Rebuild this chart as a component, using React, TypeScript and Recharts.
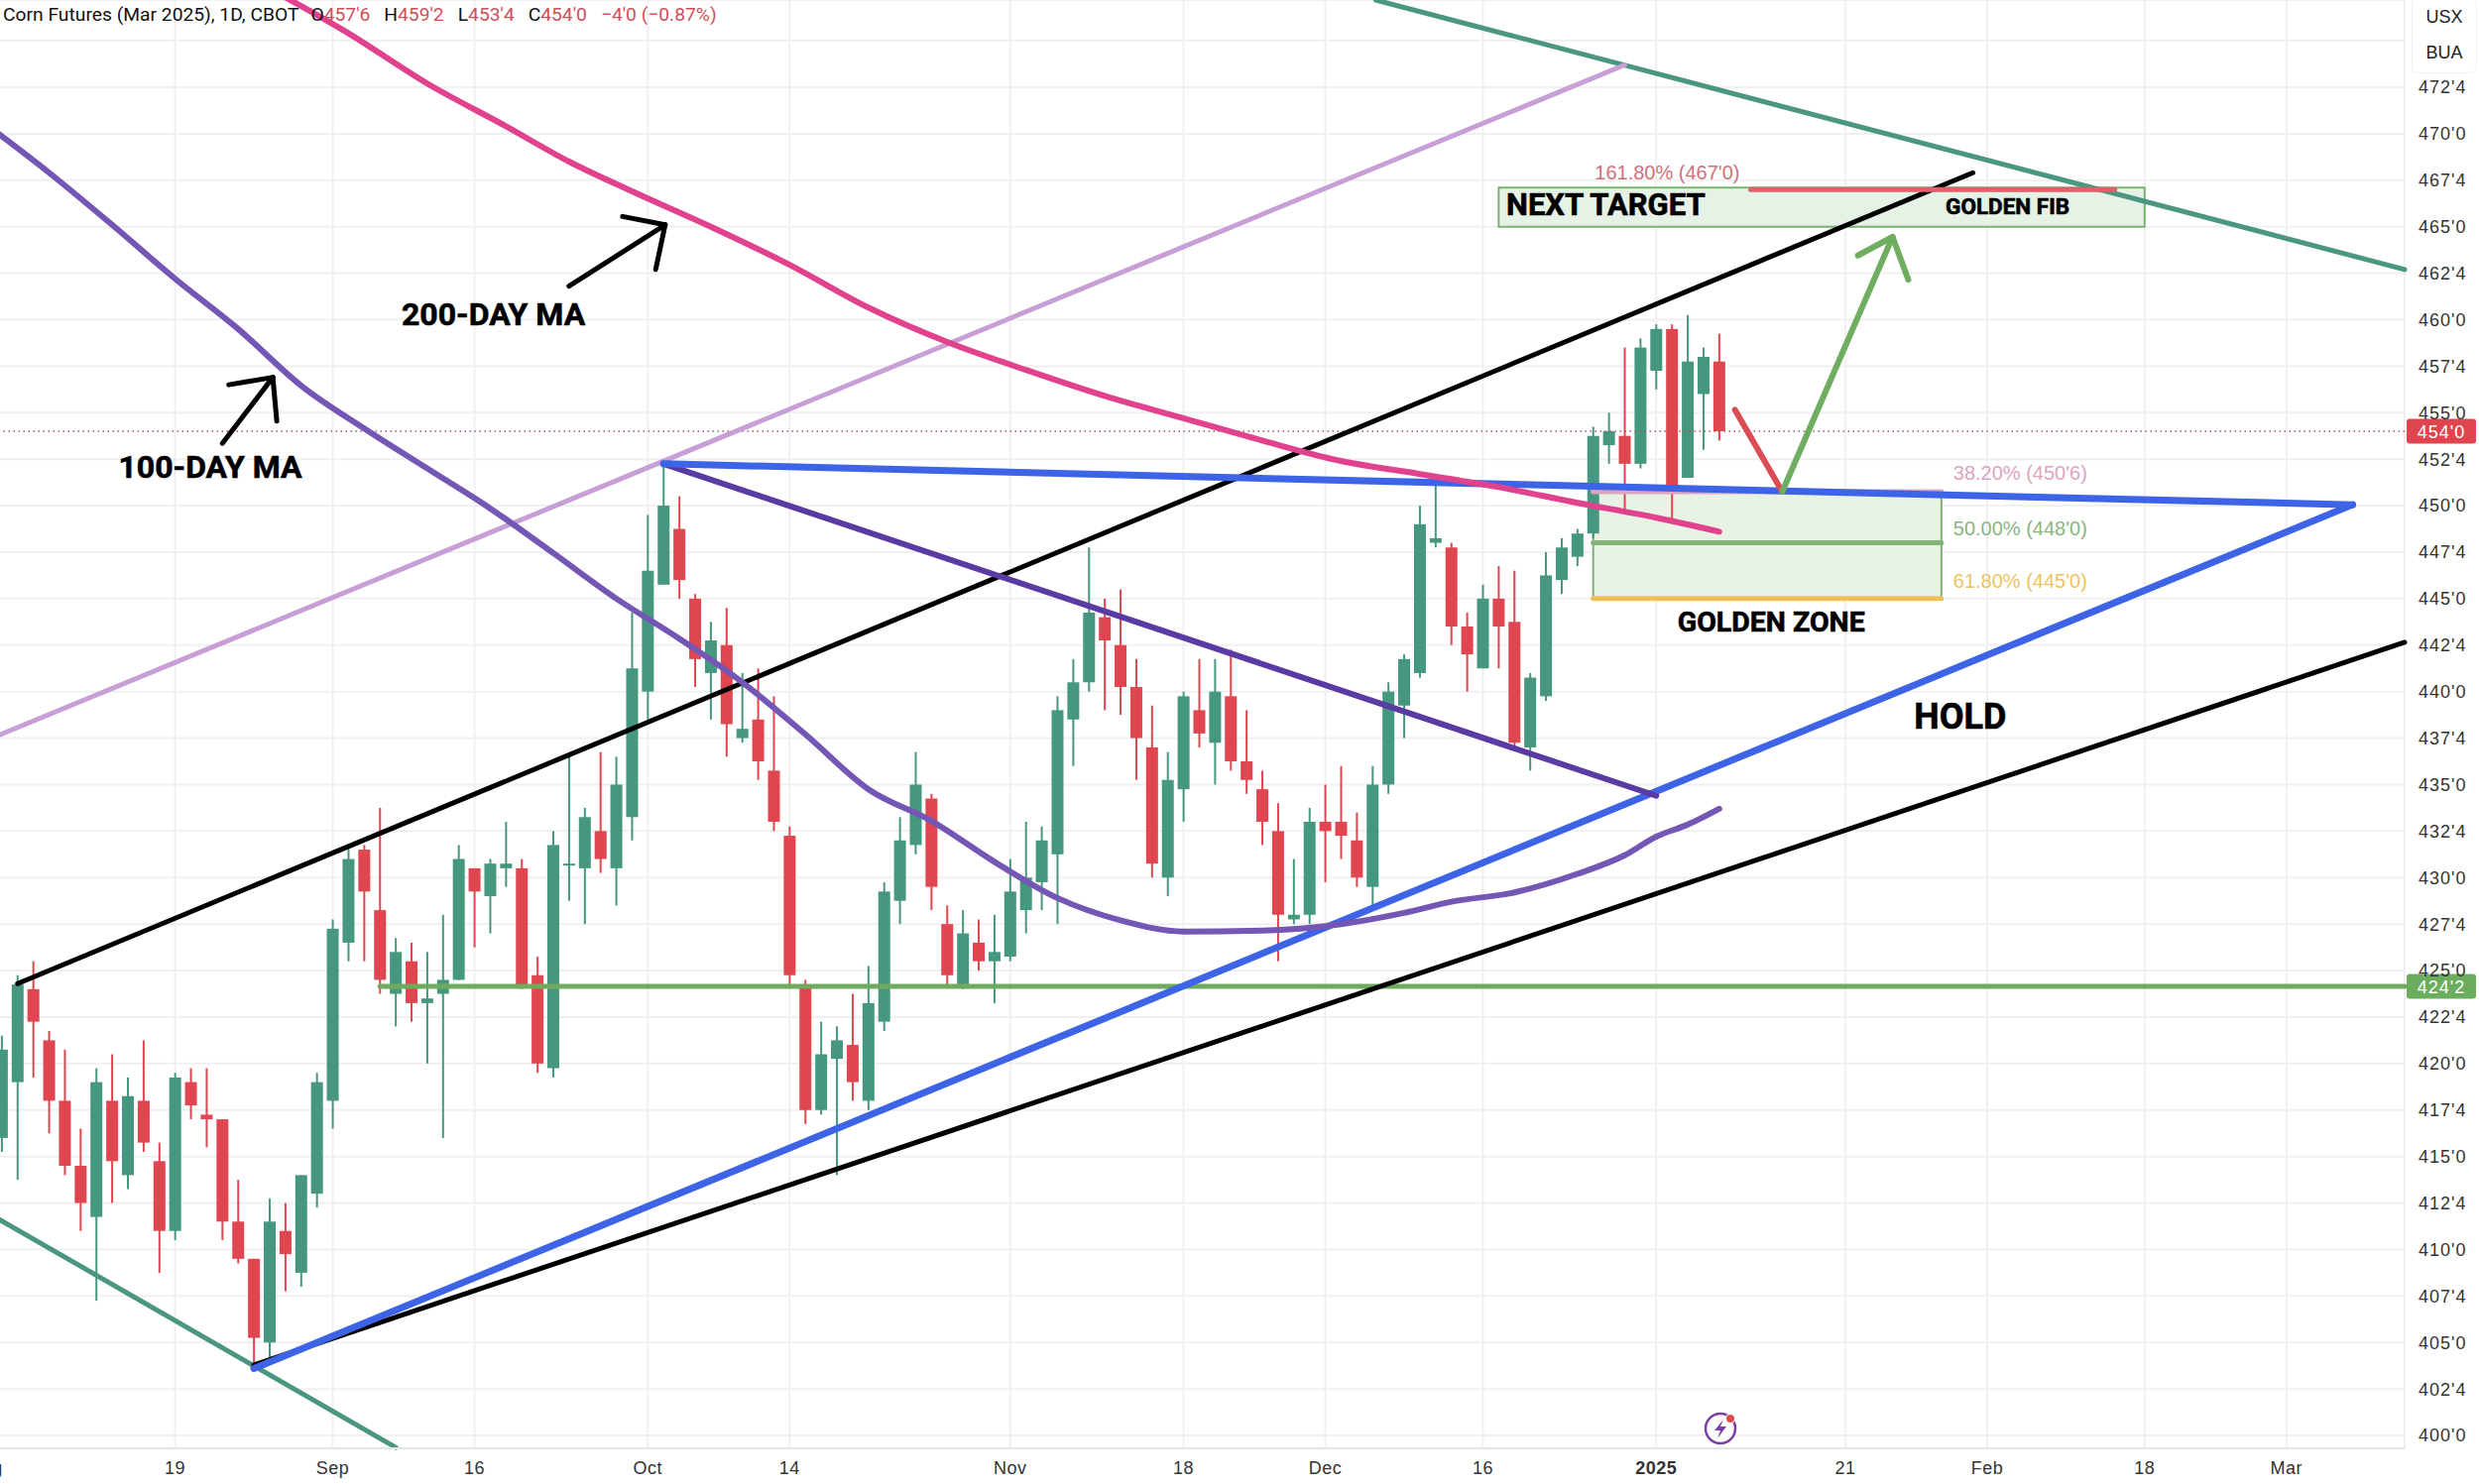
import { Bar, CartesianGrid, ComposedChart, Line, ReferenceArea, ReferenceDot, ReferenceLine, XAxis, YAxis } from 'recharts';

const UP = '#45987f';
const DOWN = '#e0464f';
const SANS = '"Liberation Sans", Arial, sans-serif';
const BOLD = 'Roboto, sans-serif';

// daily bars, first one is the partly cut candle on the left edge
const opens = [
  416, 419, 424, 421.25, 418, 414.5, 411.75, 418, 414, 418,
  414.75, 411, 419, 417.25, 417, 411.5, 409.5, 405, 411, 408.75,
  413, 418, 426.5, 431.5, 428.25, 423.75, 425.5, 423.25, 423.75, 424.5,
  430.5, 429, 430.5, 430.5, 424.75, 419.75, 430.75, 430.5, 432.5, 430.5,
  433.25, 440, 445.75, 448.75, 445, 441, 442.5, 437.5, 438.5, 435.75,
  432.25, 424.25, 417.5, 420.25, 421, 418, 422.25, 428.75, 431.75, 434.25,
  427.5, 424.25, 426.5, 425.5, 425.75, 428.25, 429.75, 431.25, 438.5, 440.5,
  444, 442.5, 440.25, 437, 430, 434.75, 439, 437.25, 439.75, 436.25,
  434.75, 432.5, 427.75, 428, 433, 433, 432, 429.5, 435, 439.25,
  441, 448, 447.75, 443.5, 441.25, 445, 443.75, 437, 439.75, 446,
  447.25, 448.5, 453.25, 453.75, 452.25, 457.25, 459.5, 451.5, 456, 457.75,
];
const closes = [
  420.75, 424.25, 422.25, 418, 414.5, 412.5, 419, 414.75, 418.25, 415.75,
  411, 419.25, 417.75, 417, 411.5, 409.5, 405.25, 411.5, 409.75, 414,
  419, 427.25, 431, 429.25, 424.5, 426, 423.25, 423.5, 424.5, 431,
  429.25, 430.75, 430.75, 424.25, 420, 431.75, 430.75, 433.25, 431, 435,
  441.25, 446.5, 450, 446, 441.75, 442.75, 438.25, 438, 436.25, 433,
  424.75, 417.5, 420.5, 421.25, 419, 423.25, 429.25, 432, 435, 429.5,
  424.75, 427, 425.5, 426, 429.25, 430, 432, 439, 440.5, 444.25,
  442.75, 440.25, 437.5, 430.75, 435.25, 439.75, 437.75, 440, 436.25, 435.25,
  433, 428, 428, 433, 432.5, 432.25, 430, 435, 440, 441.75,
  449, 448.25, 443.5, 442, 445, 443.5, 437.25, 440.75, 446.25, 447.75,
  448.5, 453.75, 454, 452.25, 458.5, 459.5, 450.75, 457.75, 458, 454,
];
const highs = [
  421.5, 424.75, 425.5, 421.75, 420.75, 416.5, 419.75, 420.5, 419.25, 421.25,
  415.75, 419.5, 419.75, 419.75, 417, 413.75, 409.5, 412.75, 412.5, 414,
  419.5, 427.75, 431.75, 431.75, 433.75, 426.75, 426.5, 426, 428, 431.75,
  430.5, 431, 433, 431, 425.75, 432.5, 436.5, 433.75, 436.75, 436.5,
  444.25, 449.5, 452.25, 450.5, 445.25, 443.75, 444.5, 441, 441.25, 439.75,
  432.75, 424.5, 422.25, 422, 423.75, 425.25, 429.75, 433.25, 436.75, 434.5,
  428.5, 428.25, 427.75, 428, 431, 433, 432.75, 439.75, 441.75, 447.75,
  445, 445.5, 441.75, 439.25, 436.75, 440, 441.75, 441.75, 442.25, 439,
  435.75, 434, 431, 433.75, 435, 436, 433.5, 436, 440.5, 442,
  450, 451.25, 448, 444.25, 445.75, 446.75, 446.5, 441, 447.5, 448.25,
  448.75, 454.25, 455, 458.5, 459, 459.75, 459.75, 460.25, 458.5, 459.25,
];
const lows = [
  415.25, 413.75, 419.25, 416.25, 414, 411, 407.25, 412.5, 413.25, 415.25,
  408.75, 410.5, 417, 415.5, 410.5, 409.25, 403.75, 404, 407.75, 408,
  412.25, 416.5, 425.5, 425.5, 423.75, 422, 422.25, 420, 416, 424.5,
  426.25, 427, 429.5, 424, 419.5, 419.25, 428.75, 427.5, 430.25, 428.5,
  432, 438.5, 445.75, 445, 440.25, 438.5, 436.5, 437.25, 435.25, 432.5,
  424.25, 416.75, 417.25, 414, 418, 417.5, 421.75, 427.5, 431.25, 428.25,
  424.25, 424, 425, 423.25, 425.5, 427, 428.25, 427.5, 436, 440,
  439, 438.75, 435.25, 430, 429, 433, 437, 435, 435.75, 434.5,
  431.75, 425.5, 427.5, 427.5, 429.75, 431, 429.5, 428.5, 434.5, 437.5,
  440.75, 447.75, 442.5, 440, 441.25, 441.25, 437, 435.75, 439.5, 445.25,
  446.75, 448.25, 452.25, 449.75, 452, 456.25, 449.25, 451.5, 453, 453.5,
];

// moving averages, [row, price]
const ma200: [number, number][] = [
  [17, 477.8], [22, 475.4], [27, 472.7], [32, 470.4], [36, 468.5], [40, 466.9], [45, 465], [50, 462.95],
  [55, 460.65], [60, 458.8], [65, 457.3], [70, 455.9], [75, 454.7], [80, 453.5], [85, 452.4], [90, 451.7],
  [95, 451], [100, 450.15], [105, 449.35], [109, 448.6],
];
const ma100: [number, number][] = [
  [-1, 470.5], [3, 467.9], [7, 465.1], [11, 462.2], [15, 459.5], [19, 456.45], [23, 454.15], [27, 452],
  [31, 449.85], [35, 447.45], [39, 445], [43, 442.85], [47, 440.5], [51, 437.7], [55, 434.75], [59, 433.05],
  [63, 430.85], [67, 428.9], [71, 427.7], [75, 427.1], [80, 427.15], [85, 427.5], [89, 428.1], [92, 428.7],
  [96, 429.2], [100, 430.2], [103, 431.2], [105, 432.2], [107, 432.85], [109, 433.7],
];

const tickRows = [-1, 11, 21, 30, 41, 50, 64, 75, 84, 94, 105, 117, 126, 136, 145];
const tickLabels = ['Aug', '19', 'Sep', '16', 'Oct', '14', 'Nov', '18', 'Dec', '16', '2025', '21', 'Feb', '18', 'Mar'];
const priceTicks = [
  400, 402.5, 405, 407.5, 410, 412.5, 415, 417.5, 420, 422.5, 425, 427.5, 430, 432.5, 435, 437.5,
  440, 442.5, 445, 447.5, 450, 452.5, 455, 457.5, 460, 462.5, 465, 467.5, 470, 472.5, 475,
];

// drawn lines: [row, price, row, price, colour, width]
type Seg = [number, number, number, number, string, number];
const trendLines: Seg[] = [
  [87.2, 477.19, 152.5, 462.7, '#4b9680', 5],
  [-1.5, 412.27, 25, 399.36, '#4b9680', 5],
  [-1.5, 437.2, 103, 473.7, '#c79ed5', 5],
  [24, 424.15, 152.5, 424.15, '#6faa5e', 5],
  [1, 424.3, 125.1, 467.9, '#000000', 5],
  [16, 403.8, 152.5, 442.65, '#000000', 5],
  [16, 403.6, 149.2, 450.05, '#3d63e6', 7],
  [42, 452.25, 105, 434.4, '#5a3ba4', 6],
  [101, 450.75, 123.1, 450.75, '#dca5bf', 5],
  [42, 452.25, 149.2, 450.05, '#3d63e6', 7],
  [101, 448, 123.1, 448, '#7fb577', 5],
  [101, 445, 123.1, 445, '#eec05a', 5],
  [111, 467, 134.1, 467, '#e0606a', 5],
];
const arrowLines: Seg[] = [
  [110, 455.15, 113, 450.75, '#dc4c55', 6],
  [113, 450.75, 120, 464.45, '#6fae60', 6],
  [117.8, 463.45, 120, 464.45, '#6fae60', 6],
  [120, 464.45, 121, 462.15, '#6fae60', 6],
  [36, 461.8, 42.1, 465.1, '#000000', 5],
  [39.4, 465.55, 42.1, 465.1, '#000000', 5],
  [42.1, 465.1, 41.5, 462.7, '#000000', 5],
  [14, 453.35, 17.2, 456.9, '#000000', 5],
  [14.4, 456.5, 17.2, 456.9, '#000000', 5],
  [17.2, 456.9, 17.45, 454.55, '#000000', 5],
];

// text on the chart: [row, price, text, size, colour, weight]
type Note = [number, number, string, number, string, number];
const notes: Note[] = [
  [31.2, 460.3, '200-DAY MA', 32, '#000', 700],
  [13.23, 452.1, '100-DAY MA', 32, '#000', 700],
  [101.8, 466.2, 'NEXT TARGET', 31, '#000', 700],
  [127.3, 466.1, 'GOLDEN FIB', 22.5, '#000', 700],
  [112.3, 443.8, 'GOLDEN ZONE', 28.5, '#000', 700],
  [124.3, 438.7, 'HOLD', 36, '#000', 700],
  [105.7, 467.95, "161.80% (467'0)", 20, '#d0707a', 400],
  [128.1, 451.75, "38.20% (450'6)", 20, '#dca5bf', 400],
  [128.1, 448.8, "50.00% (448'0)", 20, '#8ab582', 400],
  [128.1, 445.95, "61.80% (445'0)", 20, '#ecc45f', 400],
];

const headerParts: [string, string, number][] = [
  ['Corn Futures (Mar 2025), 1D, CBOT', '#111', 12],
  ['O', '#111', 0], ["457'6", '#cf4f59', 14],
  ['H', '#111', 0], ["459'2", '#cf4f59', 14],
  ['L', '#111', 0], ["453'4", '#cf4f59', 14],
  ['C', '#111', 0], ["454'0", '#cf4f59', 14],
  ['−4\'0 (−0.87%)', '#cf4f59', 0],
];

const rows = Array.from({ length: 154 }, (_, n) => {
  const row = n - 1;
  const has = row >= 0 && row < opens.length;
  return {
    row,
    open: has ? opens[row] : undefined,
    close: has ? closes[row] : undefined,
    high: has ? highs[row] : undefined,
    low: has ? lows[row] : undefined,
    range: has ? [lows[row], highs[row]] : undefined,
    ma100: ma100.find(p => p[0] === row)?.[1],
    ma200: ma200.find(p => p[0] === row)?.[1],
  };
});

const formatPrice = (v: number) => `${Math.floor(v)}'${(v - Math.floor(v)) * 8}`;

function Candle(props: any) {
  const { x, y, width, height, payload } = props;
  if (!payload || payload.open === undefined) return null;
  const { open, close, high, low } = payload;
  const perUnit = height / (high - low);
  const top = y + (high - Math.max(open, close)) * perUnit;
  const bodyHeight = Math.max(Math.abs(open - close) * perUnit, 2);
  const color = close >= open ? UP : DOWN;
  const mid = x + width / 2;
  return (
    <g>
      <line x1={mid} x2={mid} y1={y} y2={y + height} stroke={color} strokeWidth={2} />
      <rect x={x} y={top} width={width} height={bodyHeight} fill={color} />
    </g>
  );
}

function DateTick({ x, y, payload }: any) {
  const label = tickLabels[tickRows.indexOf(payload.value)];
  return (
    <text x={x} y={y + 18} textAnchor="middle" fontFamily={SANS} fontSize={18} letterSpacing={0.5} fill="#333"
      fontWeight={label === '2025' ? 700 : 400}>
      {label}
    </text>
  );
}

function segment(s: Seg, key: string) {
  return (
    <ReferenceLine key={key} xAxisId="draw" ifOverflow="visible" stroke={s[4]} strokeWidth={s[5]} strokeLinecap="round"
      segment={[{ x: s[0], y: s[1] }, { x: s[2], y: s[3] }]} />
  );
}

function priceTag(price: number, text: string, color: string) {
  return (
    <ReferenceDot xAxisId="draw" x={152.5} y={price} ifOverflow="visible"
      shape={(p: any) => (
        <g>
          <rect x={p.cx + 2} y={p.cy - 12.5} width={70} height={25} rx={3} fill={color} />
          <text x={p.cx + 37} y={p.cy + 6.5} textAnchor="middle" fontFamily={SANS} fontSize={18} letterSpacing={1} fill="#fff">{text}</text>
        </g>
      )} />
  );
}

export default function App() {
  return (
    <div style={{ position: 'absolute', left: 0, top: 0, width: 2500, height: 1497, background: '#fff', overflow: 'hidden' }}>
      <ComposedChart width={2500} height={1497} data={rows} margin={{ top: 0, right: 0, bottom: 0, left: -22 }}>
        <CartesianGrid stroke="#f0f0f0" strokeWidth={2} />
        <XAxis dataKey="row" ticks={tickRows} interval={0} height={36} axisLine={{ stroke: '#e4e4e4', strokeWidth: 2 }} tickLine={false} tick={<DateTick />} />
        <XAxis xAxisId="draw" dataKey="row" type="number" domain={[-1.5, 152.5]} allowDataOverflow hide />
        <YAxis orientation="right" type="number" width={75} domain={[399.31, 477.19]} allowDataOverflow ticks={priceTicks} interval={0}
          tickFormatter={formatPrice} axisLine={false} tickLine={false} tickSize={0} tickMargin={14}
          tick={{ fontFamily: SANS, fontSize: 18, letterSpacing: 1, fill: '#333' }} />
        <ReferenceArea xAxisId="draw" x1={95} x2={136} y1={465} y2={467.1} ifOverflow="visible" fill="#e6f2e5" fillOpacity={1} stroke="#7cb274" strokeWidth={2} />
        <ReferenceArea xAxisId="draw" x1={101} x2={123.1} y1={445} y2={450.75} ifOverflow="visible" fill="#e8f3e6" fillOpacity={1} stroke="#7cb274" strokeWidth={2} />
        <ReferenceLine y={454} stroke="#b5525a" strokeWidth={1.5} strokeDasharray="1.5 3.5" ifOverflow="visible" />
        {trendLines.map((s, i) => segment(s, `t${i}`))}
        <Line dataKey="ma200" connectNulls type="monotone" stroke="#e0428d" strokeWidth={6} dot={false} activeDot={false} isAnimationActive={false} strokeLinecap="round" />
        <Bar dataKey="range" barSize={12} isAnimationActive={false} shape={<Candle />} />
        <Line dataKey="ma100" connectNulls type="monotone" stroke="#7456b5" strokeWidth={6} dot={false} activeDot={false} isAnimationActive={false} strokeLinecap="round" />
        {arrowLines.map((s, i) => segment(s, `a${i}`))}
        {notes.map((n, i) => (
          <ReferenceDot key={`n${i}`} xAxisId="draw" x={n[0]} y={n[1]} ifOverflow="visible"
            shape={(p: any) => (
              <text x={p.cx} y={p.cy} dy="0.36em" textAnchor="middle" fontFamily={n[5] === 700 ? BOLD : SANS} fontSize={n[3]} fontWeight={n[5]} fill={n[4]}
                stroke={n[5] === 700 ? n[4] : 'none'} strokeWidth={0.6}>{n[2]}</text>
            )} />
        ))}
        {priceTag(454, "454'0", '#e0454f')}
        {priceTag(424.15, "424'2", '#6aad5c')}
      </ComposedChart>

      <div style={{ position: 'absolute', left: 3, top: 4, fontFamily: 'Roboto, sans-serif', fontSize: 19.25, lineHeight: '22px', whiteSpace: 'pre' }}>
        {headerParts.map(([t, c, gap], i) => (
          <span key={i} style={{ color: c, marginRight: gap }}>{t}</span>
        ))}
      </div>
      <div style={{ position: 'absolute', left: 2432, top: -2, width: 64, height: 74, background: '#fff', border: '1px solid #f0f0f0', borderRadius: 6, fontFamily: SANS, fontSize: 18, textAlign: 'center', color: '#222', lineHeight: '36px' }}>
        <div>USX</div>
        <div>BUA</div>
      </div>
      <svg style={{ position: 'absolute', left: 1715, top: 1421 }} width={40} height={40}>
        <circle cx={20} cy={20} r={15} fill="#fff" stroke="#7b3fa8" strokeWidth={2.5} />
        <path d="M23 11 L14 22 L20 22 L17 30 L26 18 L20 18 Z" fill="#7b3fa8" />
        <circle cx={30} cy={10} r={5} fill="#fff" />
        <circle cx={30} cy={10} r={4} fill="#dc4c4c" />
      </svg>
    </div>
  );
}
